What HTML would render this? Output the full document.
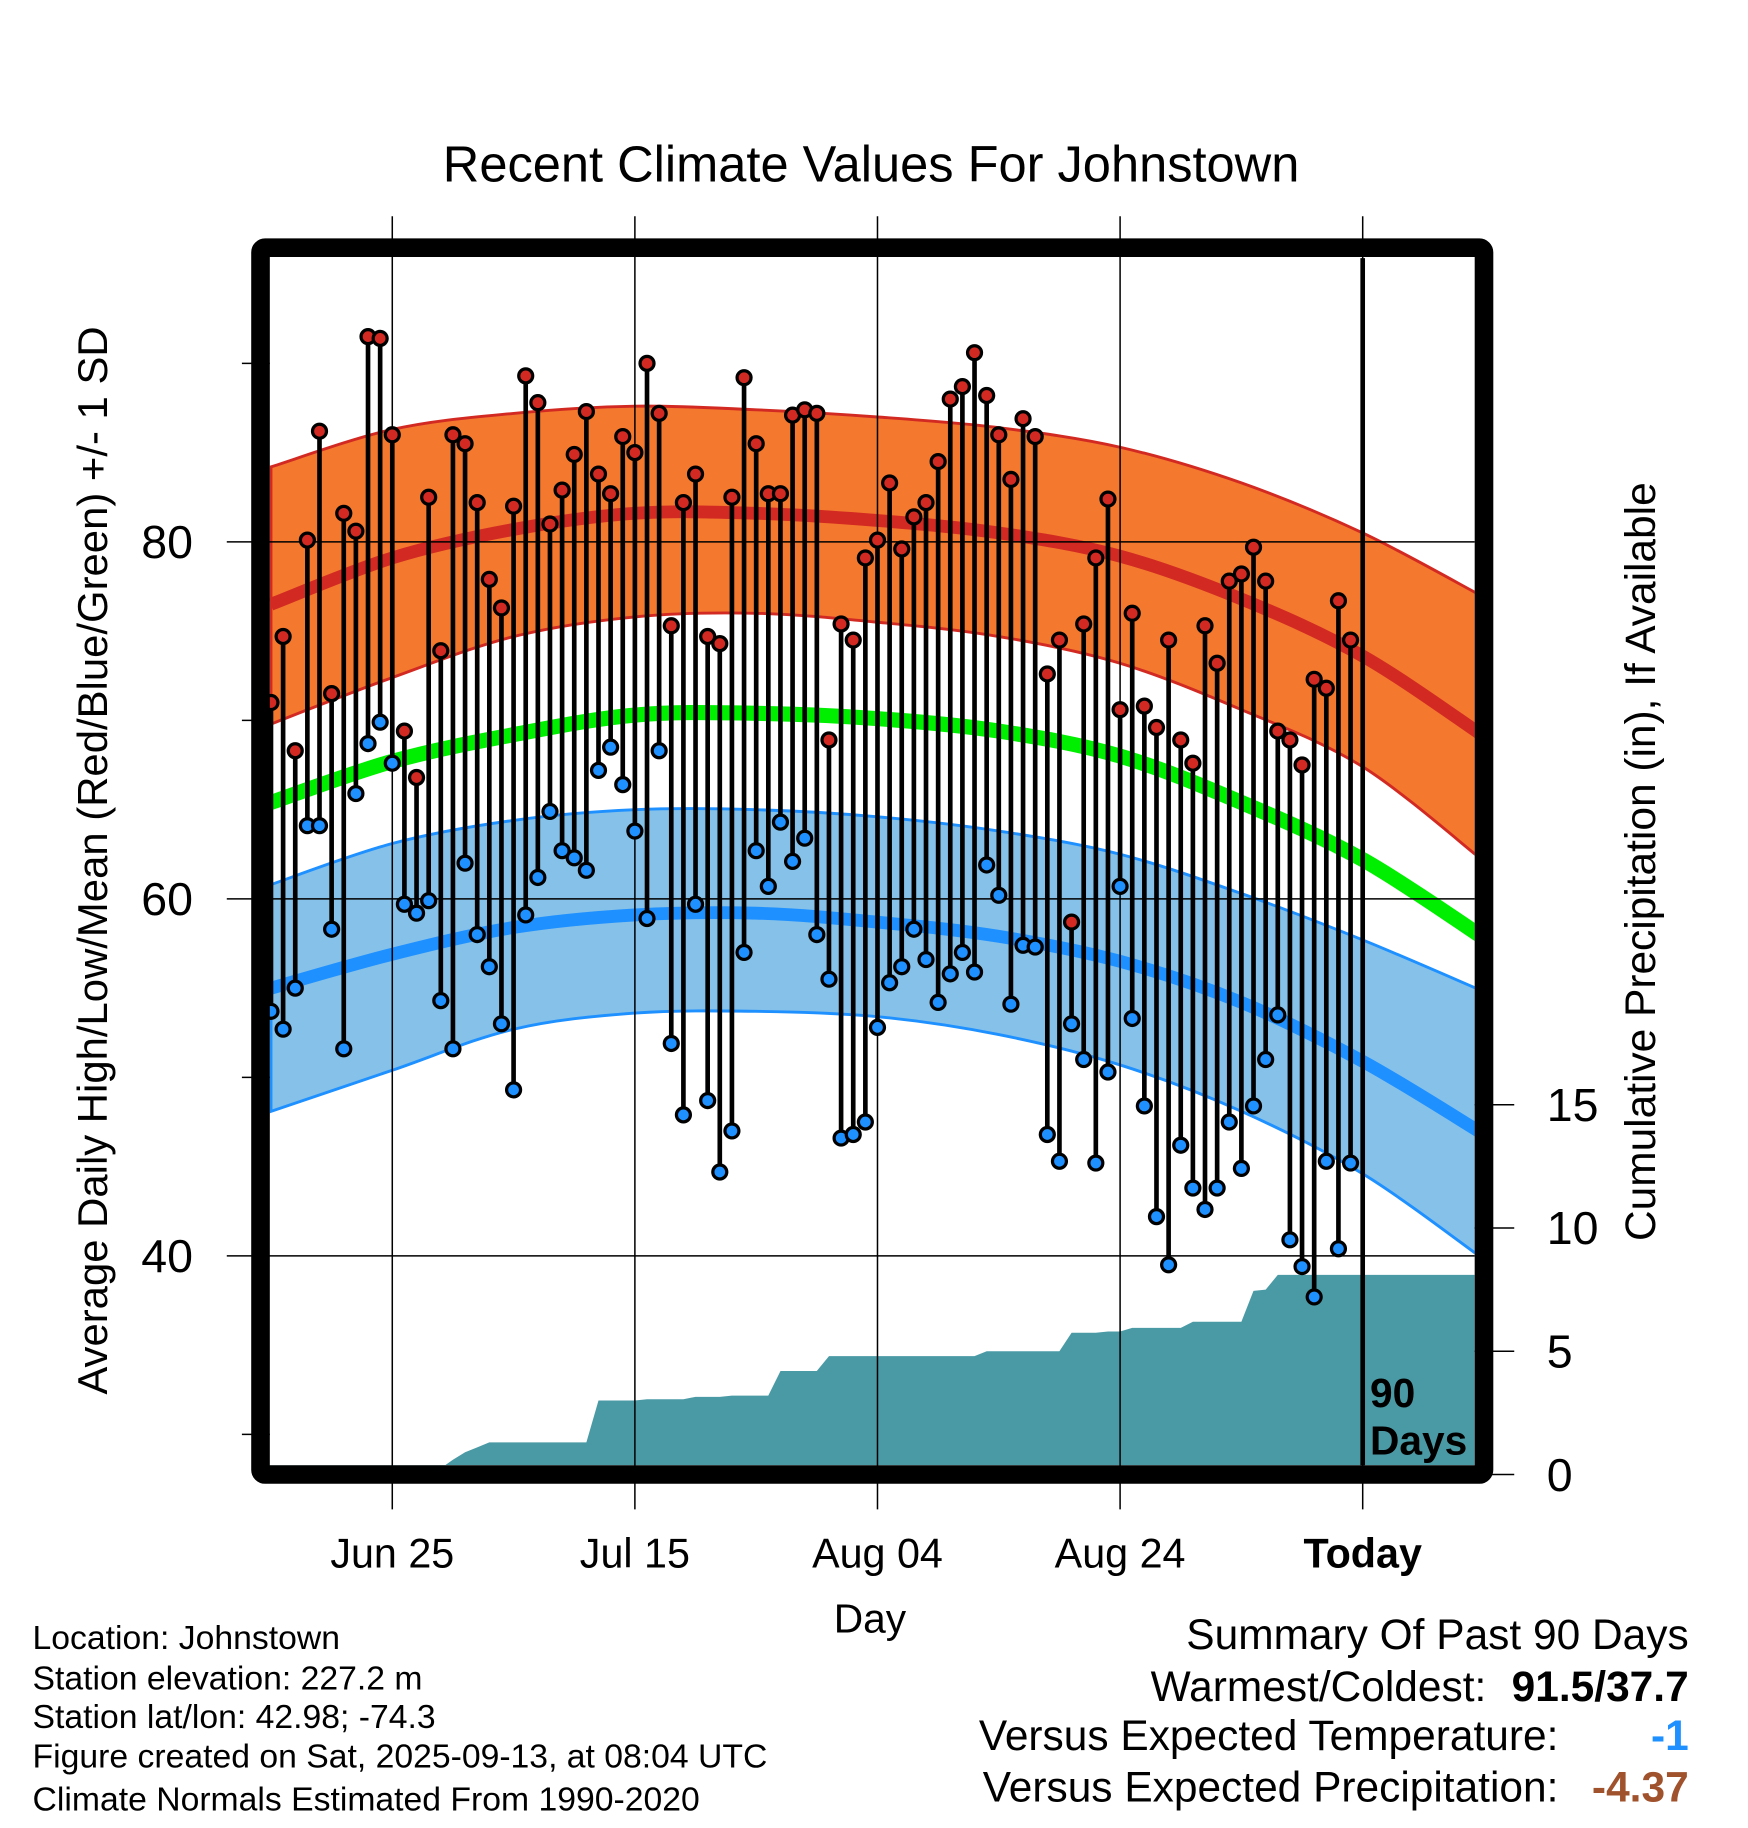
<!DOCTYPE html>
<html><head><meta charset="utf-8">
<style>
html,body{margin:0;padding:0;background:#fff;}
svg{display:block;font-family:"Liberation Sans",Arial,sans-serif;}
</style></head>
<body>
<svg id="chart" width="1748" height="1828" viewBox="0 0 1503 1572" preserveAspectRatio="none" xmlns="http://www.w3.org/2000/svg">
<rect x="0" y="0" width="1503" height="1572" fill="#fff"/>
<text x="749" y="156" font-size="43.5" text-anchor="middle">Recent Climate Values For Johnstown</text>
<g id="bands"></g>
<g id="precip"></g>
<g id="grid"></g>
<g id="stems"></g>
<g id="frame"></g>
<g id="axes"></g>
<text transform="translate(92,740) rotate(-90)" font-size="36" text-anchor="middle">Average Daily High/Low/Mean (Red/Blue/Green) +/- 1 SD</text>
<text transform="translate(1423,741) rotate(-90)" font-size="36.5" text-anchor="middle">Cumulative Precipitation (in), If Available</text>
<text x="748" y="1404" font-size="35" text-anchor="middle">Day</text>
<text x="1178" y="1210" font-size="35" font-weight="bold">90</text>
<text x="1178" y="1251" font-size="35" font-weight="bold">Days</text>
<g font-size="29">
<text x="28" y="1418">Location: Johnstown</text>
<text x="28" y="1453">Station elevation: 227.2 m</text>
<text x="28" y="1486">Station lat/lon: 42.98; -74.3</text>
<text x="28" y="1520">Figure created on Sat, 2025-09-13, at 08:04 UTC</text>
<text x="28" y="1557">Climate Normals Estimated From 1990-2020</text>
</g>
<g font-size="36.5" text-anchor="end">
<text x="1452" y="1418">Summary Of Past 90 Days</text>
<text x="1278" y="1463">Warmest/Coldest:</text>
<text x="1452" y="1463" font-weight="bold">91.5/37.7</text>
<text x="1340" y="1505">Versus Expected Temperature:</text>
<text x="1452" y="1505" font-weight="bold" fill="#1e90ff">-1</text>
<text x="1340" y="1549">Versus Expected Precipitation:</text>
<text x="1452" y="1549" font-weight="bold" fill="#a0522d">-4.37</text>
</g>
</svg>
<script>
const highs=[71.0,74.7,68.3,80.1,86.2,71.5,81.6,80.6,91.5,91.4,86.0,69.4,66.8,82.5,73.9,86.0,85.5,82.2,77.9,76.3,82.0,89.3,87.8,81.0,82.9,84.9,87.3,83.8,82.7,85.9,85.0,90.0,87.2,75.3,82.2,83.8,74.7,74.3,82.5,89.2,85.5,82.7,82.7,87.1,87.4,87.2,68.9,75.4,74.5,79.1,80.1,83.3,79.6,81.4,82.2,84.5,88.0,88.7,90.6,88.2,86.0,83.5,86.9,85.9,72.6,74.5,58.7,75.4,79.1,82.4,70.6,76.0,70.8,69.6,74.5,68.9,67.6,75.3,73.2,77.8,78.2,79.7,77.8,69.4,68.9,67.5,72.3,71.8,76.7,74.5];
const lows=[53.7,52.7,55.0,64.1,64.1,58.3,51.6,65.9,68.7,69.9,67.6,59.7,59.2,59.9,54.3,51.6,62.0,58.0,56.2,53.0,49.3,59.1,61.2,64.9,62.7,62.3,61.6,67.2,68.5,66.4,63.8,58.9,68.3,51.9,47.9,59.7,48.7,44.7,47.0,57.0,62.7,60.7,64.3,62.1,63.4,58.0,55.5,46.6,46.8,47.5,52.8,55.3,56.2,58.3,56.6,54.2,55.8,57.0,55.9,61.9,60.2,54.1,57.4,57.3,46.8,45.3,53.0,51.0,45.2,50.3,60.7,53.3,48.4,42.2,39.5,46.2,43.8,42.6,43.8,47.5,44.9,48.4,51.0,53.5,40.9,39.4,37.7,45.3,40.4,45.2];
const precipCum=[0,0,0,0,0,0,0,0,0,0,0.03,0.1,0.15,0.2,0.25,0.6,0.9,1.1,1.3,1.3,1.3,1.3,1.3,1.3,1.3,1.3,1.3,3.0,3.0,3.0,3.0,3.05,3.05,3.05,3.05,3.15,3.15,3.15,3.2,3.2,3.2,3.2,4.2,4.2,4.2,4.2,4.8,4.8,4.8,4.8,4.8,4.8,4.8,4.8,4.8,4.8,4.8,4.8,4.8,5.0,5.0,5.0,5.0,5.0,5.0,5.0,5.75,5.75,5.75,5.8,5.8,5.95,5.95,5.95,5.95,5.95,6.2,6.2,6.2,6.2,6.2,7.45,7.5,8.1,8.1,8.1,8.1,8.1,8.1,8.1];
const normDays=[0,10,20,30,40,50,60,70,80,90,100];
const highUpper=[84.2,86.3,87.2,87.6,87.4,87.0,86.4,85.3,83.3,80.5,76.9];
const highNormal=[76.5,79.1,80.7,81.6,81.6,81.2,80.5,79.2,76.8,73.6,69.1];
const highLower=[69.8,72.4,74.7,75.8,76.0,75.5,74.7,73.2,70.6,67.4,62.1];
const meanNormal=[65.4,67.7,69.2,70.3,70.4,70.1,69.4,68.0,65.4,62.2,57.8];
const lowUpper=[60.8,63.1,64.4,65.0,65.0,64.6,63.8,62.5,60.3,57.7,54.8];
const lowNormal=[55.0,56.9,58.4,59.1,59.2,58.7,57.9,56.5,54.2,50.9,46.8];
const lowLower=[48.1,50.4,52.7,53.6,53.7,53.4,52.4,50.7,48.1,44.6,39.8];
const tempTicks=[40,60,80];
const minorTicks=[30,50,70,90];
const precipTicks=[0,5,10,15];
const dateLabels=["Jun 25","Jul 15","Aug 04","Aug 24","Today"];
const dateDays=[10,30,50,70,90];

const NS="http://www.w3.org/2000/svg";
const L=232,R=1268,T=222,B=1260;
const xd=d=>233+d*10.43;
const yt=t=>466-(t-80)*15.35;
const yp=p=>1268-p*21.2;
function mk(tag,attrs,parent){const e=document.createElementNS(NS,tag);for(const k in attrs)e.setAttribute(k,attrs[k]);document.getElementById(parent).appendChild(e);return e;}
function pts(arr){return normDays.map((d,i)=>[xd(d),yt(arr[i])]);}
function smooth(p,start){
  let s=(start?'M':'L')+p[0][0].toFixed(1)+','+p[0][1].toFixed(1);
  for(let i=0;i<p.length-1;i++){
    const p0=p[Math.max(0,i-1)],p1=p[i],p2=p[i+1],p3=p[Math.min(p.length-1,i+2)];
    const c1=[p1[0]+(p2[0]-p0[0])/6,p1[1]+(p2[1]-p0[1])/6];
    const c2=[p2[0]-(p3[0]-p1[0])/6,p2[1]-(p3[1]-p1[1])/6];
    s+=' C'+c1[0].toFixed(1)+','+c1[1].toFixed(1)+' '+c2[0].toFixed(1)+','+c2[1].toFixed(1)+' '+p2[0].toFixed(1)+','+p2[1].toFixed(1);
  }
  return s;
}
function line(arr){return smooth(pts(arr),true);}
function band(up,lo){return smooth(pts(up),true)+' '+smooth(pts(lo).reverse(),false)+' Z';}

const defs=document.createElementNS(NS,'defs');
defs.innerHTML='<clipPath id="pc"><rect x="'+L+'" y="'+T+'" width="'+(R-L)+'" height="'+(B-T)+'"/></clipPath>';
document.getElementById('chart').insertBefore(defs,document.getElementById('chart').firstChild);
document.getElementById('bands').setAttribute('clip-path','url(#pc)');
document.getElementById('precip').setAttribute('clip-path','url(#pc)');

let e;
e=mk('path',{d:band(highUpper,highLower),fill:'#f4792e',stroke:'#d22a22','stroke-width':2.5},'bands');


e=mk('path',{d:band(lowUpper,lowLower),fill:'#85c1e9',stroke:'#1e90ff','stroke-width':2.5},'bands');


e=mk('path',{d:line(highNormal),fill:'none',stroke:'#d22a22','stroke-width':11},'bands');


e=mk('path',{d:line(meanNormal),fill:'none',stroke:'#00ee00','stroke-width':13},'bands');


e=mk('path',{d:line(lowNormal),fill:'none',stroke:'#1e90ff','stroke-width':11},'bands');



let pd='M'+xd(0)+','+yp(0);
precipCum.forEach((p,i)=>{pd+=' L'+xd(i).toFixed(1)+','+yp(p).toFixed(1);});
pd+=' L'+R+','+yp(precipCum[precipCum.length-1]).toFixed(1)+' L'+R+','+B+' L'+L+','+B+' Z';
e=mk('path',{d:pd,fill:'#4a9aa5'},'precip');



tempTicks.forEach(t=>{
  e=mk('line',{x1:195,x2:R,y1:yt(t),y2:yt(t),stroke:'#000','stroke-width':1.3},'grid');
  
  
  e=mk('text',{x:166,y:yt(t)+14,'font-size':40,'text-anchor':'end'},'axes');
  e.textContent=t;
  
  
});
minorTicks.forEach(t=>{
  e=mk('line',{x1:208,x2:L,y1:yt(t),y2:yt(t),stroke:'#000','stroke-width':1.3},'grid');
  
  
});
dateDays.forEach((d,i)=>{
  const x=xd(d);
  e=mk('line',{x1:x,x2:x,y1:186,y2:1298,stroke:'#000','stroke-width':1.3},'grid');
  
  
  e=mk('text',{x:x,y:1348,'font-size':35.5,'text-anchor':'middle','font-weight':d===90?'bold':'normal'},'axes');
  e.textContent=dateLabels[i];
  
  
});
precipTicks.forEach(p=>{
  e=mk('line',{x1:R,x2:1302,y1:yp(p),y2:yp(p),stroke:'#000','stroke-width':1.3},'axes');
  
  
  e=mk('text',{x:1330,y:yp(p)+14,'font-size':40},'axes');
  e.textContent=p;
  
  
});

highs.forEach((h,i)=>{
  const x=xd(i);
  e=mk('line',{x1:x,x2:x,y1:yt(h),y2:yt(lows[i]),stroke:'#000','stroke-width':4},'stems');
  
  
});
highs.forEach((h,i)=>{
  const x=xd(i);
  e=mk('circle',{cx:x,cy:yt(h),r:6,fill:'#d22a22',stroke:'#000','stroke-width':2.8},'stems');
  
  
  e=mk('circle',{cx:x,cy:yt(lows[i]),r:6,fill:'#1e90ff',stroke:'#000','stroke-width':2.8},'stems');
  
  
});

e=mk('line',{x1:xd(90),x2:xd(90),y1:T,y2:B,stroke:'#000','stroke-width':4},'frame');


e=mk('rect',{x:224,y:213,width:1052,height:1055,rx:4,fill:'none',stroke:'#000','stroke-width':16},'frame');


</script>
</body></html>
